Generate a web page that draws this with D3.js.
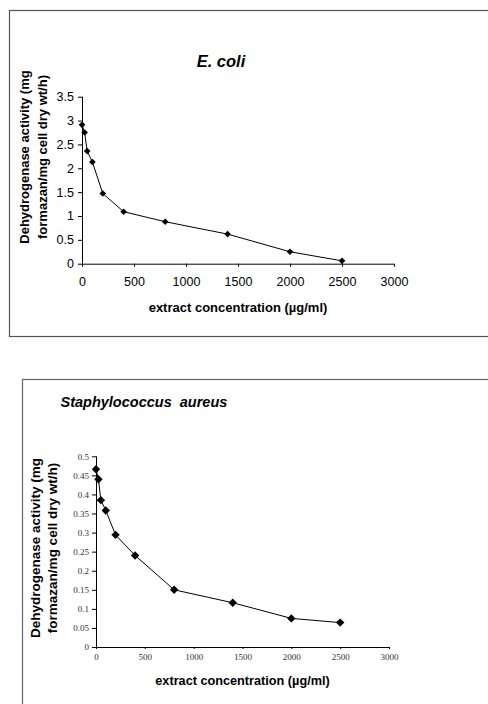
<!DOCTYPE html>
<html><head><meta charset="utf-8">
<script src="https://cdn.jsdelivr.net/npm/d3@7"></script>
<style>
html,body{margin:0;padding:0;background:#fff;}
svg{display:block;}
</style></head>
<body>
<svg id="c" width="488" height="704"></svg>
<script>
// ---- data ----
const concentrations = [0, 25, 50, 100, 200, 400, 800, 1400, 2000, 2500];
const ecoliActivity = [2.91, 2.75, 2.36, 2.13, 1.47, 1.09, 0.88, 0.62, 0.25, 0.06];
const staphActivity = [0.466, 0.44, 0.385, 0.358, 0.294, 0.24, 0.15, 0.116, 0.075, 0.064];
const xTicks = [0, 500, 1000, 1500, 2000, 2500, 3000];
const ecoliYTicks = [0, 0.5, 1, 1.5, 2, 2.5, 3, 3.5];
const staphYTicks = [0, 0.05, 0.1, 0.15, 0.2, 0.25, 0.3, 0.35, 0.4, 0.45, 0.5];
const titles = ["E. coli", "Staphylococcus  aureus"];
const xTitle = "extract concentration (\u00b5g/ml)";
const yTitle1 = "Dehydrogenase activity (mg";
const yTitle2 = "formazan/mg cell dry wt/h)";

const svg = d3.select("#c");

// frames
svg.append("rect").attr("x", 9.5).attr("y", 10.5).attr("width", 490).attr("height", 326)
  .attr("fill", "none").attr("stroke", "#555").attr("stroke-width", 1.2);
svg.append("rect").attr("x", 22.5).attr("y", 379.5).attr("width", 480).attr("height", 340)
  .attr("fill", "none").attr("stroke", "#666").attr("stroke-width", 1.2);

function drawChart(cfg) {
  const x = d3.scaleLinear().domain([0, 3000]).range([cfg.x0, cfg.x1]);
  const y = d3.scaleLinear().domain([0, cfg.yMax]).range([cfg.y0, cfg.y1]);
  const g = svg.append("g");

  const yAxis = d3.axisLeft(y).tickValues(cfg.yTicks).tickSize(4).tickPadding(cfg.yPad)
    .tickFormat(d => String(+d.toFixed(2)));
  const ya = g.append("g").attr("transform", `translate(${cfg.x0},0)`).call(yAxis);
  const xAxis = d3.axisBottom(x).tickValues(xTicks).tickSize(cfg.xTick).tickPadding(cfg.xPad)
    .tickFormat(d3.format("d"));
  const xa = g.append("g").attr("transform", `translate(0,${cfg.y0})`).call(xAxis);
  [ya, xa].forEach(a => {
    a.select(".domain").attr("stroke", "#000").attr("stroke-width", 1);
    a.selectAll(".tick line").attr("stroke", "#000");
    a.selectAll(".tick text").attr("font-family", cfg.tickFont).attr("font-size", cfg.tickSize)
      .attr("fill", cfg.tickColor);
  });
  ya.select(".domain").attr("d", `M0.5,${cfg.y1}V${cfg.y0}`);
  xa.select(".domain").attr("d", `M${cfg.x0},0.5H${cfg.x1}`);

  const pts = concentrations.map((c, i) => [c, cfg.values[i]]);
  g.append("path").datum(pts)
    .attr("d", d3.line().x(d => x(d[0])).y(d => y(d[1])))
    .attr("fill", "none").attr("stroke", "#000").attr("stroke-width", 1);
  g.selectAll(".m").data(pts).enter().append("path")
    .attr("transform", d => `translate(${x(d[0])},${y(d[1])})`)
    .attr("d", `M0,${-cfg.m}L${cfg.m},0L0,${cfg.m}L${-cfg.m},0Z`)
    .attr("fill", "#000");

  g.append("text").attr("x", cfg.titleX).attr("y", cfg.titleY)
    .attr("text-anchor", cfg.titleAnchor)
    .attr("font-family", "Liberation Sans, Arial, sans-serif")
    .attr("font-weight", "bold").attr("font-style", "italic")
    .attr("font-size", cfg.titleSize).style("white-space", "pre")
    .text(cfg.title);

  g.append("text").attr("x", (cfg.x0 + cfg.x1) / 2).attr("y", cfg.xTitleY)
    .attr("text-anchor", "middle")
    .attr("font-family", "Liberation Sans, Arial, sans-serif")
    .attr("font-weight", "bold").attr("font-size", cfg.axisTitleSize)
    .text(xTitle);

  [[yTitle1, cfg.yT1], [yTitle2, cfg.yT2]].forEach(([t, bx]) => {
    g.append("text")
      .attr("transform", `translate(${bx},${cfg.yTitleC}) rotate(-90)`)
      .attr("text-anchor", "middle")
      .attr("font-family", "Liberation Sans, Arial, sans-serif")
      .attr("font-weight", "bold").attr("font-size", cfg.yTitleSize)
      .text(t);
  });
}

drawChart({
  x0: 82, x1: 394, y0: 263.7, y1: 96.7, yMax: 3.5,
  yTicks: ecoliYTicks, values: ecoliActivity,
  tickFont: "Liberation Sans, Arial, sans-serif", tickSize: 12.5, tickColor: "#000",
  yPad: 4, xTick: 3, xPad: 10,
  m: 3.3,
  title: titles[0], titleX: 221, titleY: 67, titleAnchor: "middle", titleSize: 16.5,
  xTitleY: 312, axisTitleSize: 13, yTitleSize: 13,
  yT1: 29, yT2: 47, yTitleC: 157
});

drawChart({
  x0: 96, x1: 389, y0: 647, y1: 456.3, yMax: 0.5,
  yTicks: staphYTicks, values: staphActivity,
  tickFont: "Liberation Serif, Times New Roman, serif", tickSize: 9, tickColor: "#333",
  yPad: 3, xTick: 2, xPad: 5,
  m: 4.2,
  title: titles[1], titleX: 60.5, titleY: 407, titleAnchor: "start", titleSize: 14.5,
  xTitleY: 685, axisTitleSize: 12.7, yTitleSize: 13.5,
  yT1: 40, yT2: 57, yTitleC: 548
});
</script>
</body></html>
